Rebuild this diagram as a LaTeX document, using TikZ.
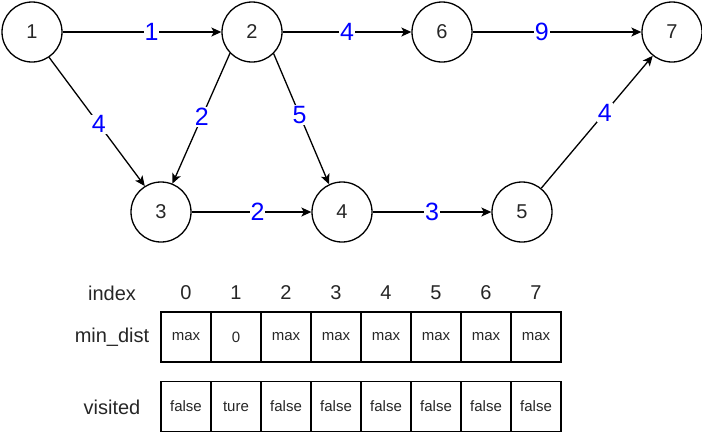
\documentclass[tikz,border=0pt]{standalone}
\usepackage{fontspec}
\setmainfont{Liberation Sans}
\usetikzlibrary{arrows.meta}
\begin{document}
\begin{tikzpicture}[x=1pt,y=-1pt,
  vertex/.style={circle,draw,line width=1.3pt,minimum size=60pt,inner sep=0pt,
    text=black!85,font=\fontsize{20}{20}\selectfont},
  edge/.style={line width=1.3pt,-{Stealth[length=10pt,width=9pt,inset=2.5pt]}},
  weight/.style={fill=white,text=blue,inner sep=1pt,font=\fontsize{25}{25}\selectfont},
  cell/.style={draw,line width=1.3pt,minimum size=50pt,inner sep=0pt,
    text=black!85,font=\fontsize{15}{15}\selectfont},
  rowlabel/.style={text=black!85,font=\fontsize{20}{20}\selectfont}]
\useasboundingbox (0,0) rectangle (702,432);

% graph vertices
\node[vertex] (n1) at (32,32) {1};
\node[vertex] (n2) at (252,32) {2};
\node[vertex] (n6) at (442,32) {6};
\node[vertex] (n7) at (672,32) {7};
\node[vertex] (n3) at (161,212) {3};
\node[vertex] (n4) at (342,212) {4};
\node[vertex] (n5) at (522,212) {5};

% weighted directed edges
\draw[edge] (n1) -- node[weight,pos=0.56] {1} (n2);
\draw[edge] (n2) -- node[weight,pos=0.5] {4} (n6);
\draw[edge] (n6) -- node[weight,pos=0.41] {9} (n7);
\draw[edge] (n1.304) -- node[weight,pos=0.52] {4} (n3.122);
\draw[edge] (n2.224) -- node[weight,pos=0.49] {2} (n3.68);
\draw[edge] (n2.315) -- node[weight,pos=0.47] {5} (n4.115);
\draw[edge] (n3) -- node[weight,pos=0.55] {2} (n4);
\draw[edge] (n4) -- node[weight,pos=0.5] {3} (n5);
\draw[edge] (n5.51) -- node[weight,pos=0.57] {4} (n7.231);

% array table
\node[rowlabel] (lidx) at (112,293) {index};
\node[rowlabel] (ldist) at (112,337) {min\_dist};
\node[rowlabel] (lvis) at (112,407) {visited};

\foreach \i/\d/\v in {0/max/false,1/0/ture,2/max/false,3/max/false,
                      4/max/false,5/max/false,6/max/false,7/max/false}{
  \node[rowlabel] (idx\i) at (186+50*\i,293) {\i};
  \node[cell] (dist\i) at (186+50*\i,337) {\d};
  \node[cell] (vis\i) at (186+50*\i,406.5) {\v};
}
\end{tikzpicture}
\end{document}
